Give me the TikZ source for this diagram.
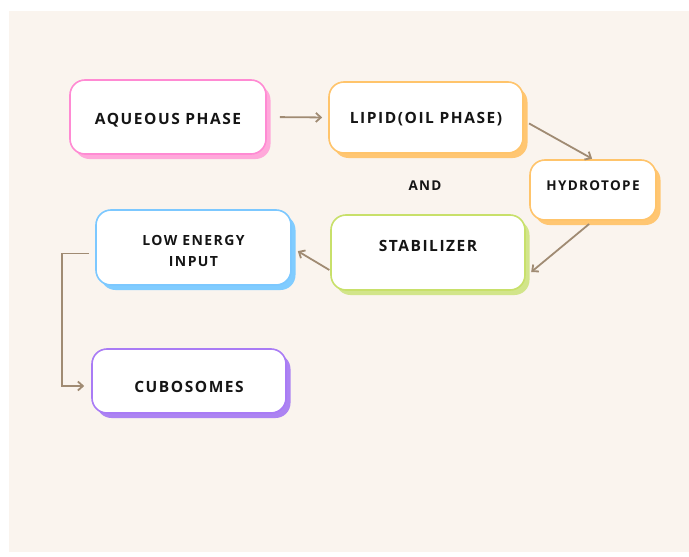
\documentclass[tikz,border=0pt]{standalone}
\usepackage{fontspec}
\setmainfont{Open Sans}[LetterSpace=10]
\usetikzlibrary{arrows.meta,shadows}
\definecolor{bgbeige}{HTML}{FAF4EE}
\definecolor{arrowbrown}{HTML}{A08B73}
\definecolor{pinkline}{HTML}{FF8AD3}
\definecolor{pinkfill}{HTML}{FFA8DA}
\definecolor{orangeline}{HTML}{FFC46B}
\definecolor{orangefill}{HTML}{FFC672}
\definecolor{greenline}{HTML}{C8E06A}
\definecolor{greenfill}{HTML}{D2E58A}
\definecolor{blueline}{HTML}{7CC8FF}
\definecolor{bluefill}{HTML}{80CCFF}
\definecolor{purpleline}{HTML}{A97BF5}
\definecolor{purplefill}{HTML}{AC83F2}
\definecolor{textblack}{HTML}{151515}
\begin{document}
\begin{tikzpicture}[
x=1pt, y=-1pt,
stepbox/.style n args={2}{rectangle, rounded corners=15pt, draw=#1, fill=white, line width=1.6pt,
  text=textblack, font=\bfseries\fontsize{15.5}{19}\selectfont, align=center,
  drop shadow={shadow xshift=4.5pt, shadow yshift=-5pt, fill=#2, opacity=1}},
conn/.style={draw=arrowbrown, line width=1.8pt, -{Straight Barb[length=5pt,width=9pt]}},
]
\useasboundingbox (0,0) rectangle (689,557);
\fill[bgbeige] (9,11) rectangle (689,552);
%Nodes
\node[stepbox={pinkline}{pinkfill}, minimum width=196pt, minimum height=74pt, text height=15.1pt, text depth=0pt]     (aqueous) at (168,117) {AQUEOUS PHASE};
\node[stepbox={orangeline}{orangefill}, minimum width=194pt, minimum height=71pt, text height=12.1pt, text depth=0pt] (lipid)   at (426,117.5) {LIPID(OIL PHASE)};
\node[stepbox={orangeline}{orangefill}, minimum width=126pt, minimum height=60pt, font=\bfseries\fontsize{13.5}{16}\selectfont, text height=9.6pt, text depth=8pt] (hydro) at (593,190) {HYDROTOPE};
\node[stepbox={greenline}{greenfill}, minimum width=194pt, minimum height=75pt, text height=11.1pt, text depth=13pt]   (stab)    at (428,252.5) {STABILIZER};
\node[stepbox={blueline}{bluefill}, minimum width=195pt, minimum height=75pt, font=\bfseries\fontsize{14}{21}\selectfont, text height=37pt, text depth=0pt] (lowenergy) at (193.5,247.5) {LOW ENERGY\\INPUT};
\node[stepbox={purpleline}{purplefill}, minimum width=194pt, minimum height=64pt, text height=23.1pt, text depth=0pt]  (cubo)    at (189,381) {CUBOSOMES};
\node[text=textblack, font=\bfseries\fontsize{13.5}{16}\selectfont] (andtext) at (425,186) {AND};

%Lines
\draw[conn, shorten <=13pt, shorten >=6pt] (aqueous.east) -- (lipid.west);
\draw[conn, shorten <=6pt, shorten >=1pt] ([yshift=-3pt]lipid.east) -- (hydro.north);
\draw[conn, shorten <=5pt, shorten >=7pt] (hydro.south) -- ([yshift=-24pt]stab.east);
\draw[conn, shorten <=1pt, shorten >=7pt] ([yshift=-18pt]stab.west) -- (lowenergy.east);
\draw[conn, shorten <=6pt, shorten >=7pt] ([yshift=-6pt]lowenergy.west) -- ++(-33,0) |- ([yshift=-5pt]cubo.west);
\end{tikzpicture}
\end{document}
